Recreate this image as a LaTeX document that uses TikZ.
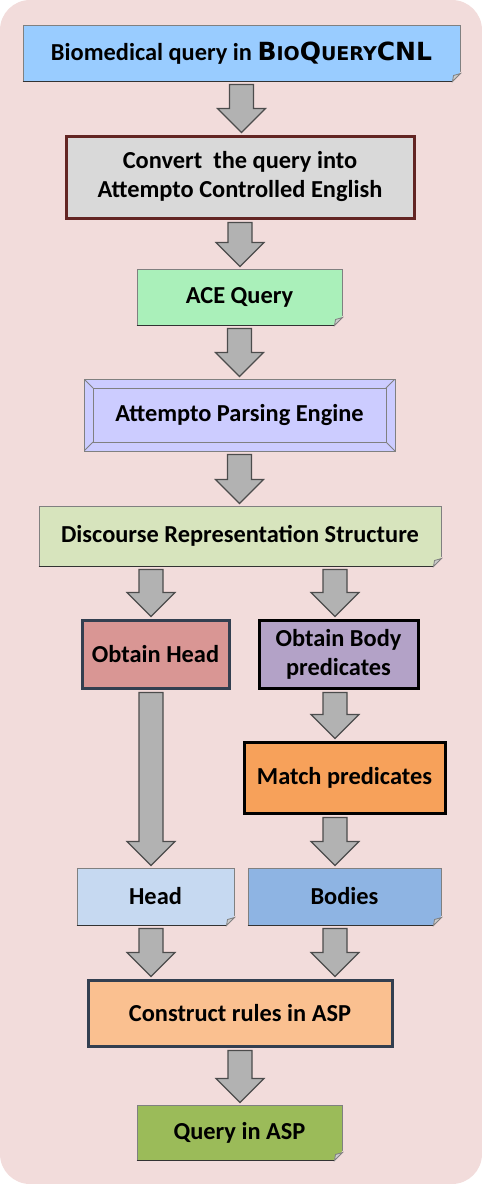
\documentclass[tikz,border=0pt]{standalone}
\usepackage{fontspec}
\setmainfont{Carlito}
\newfontfamily\cnlfont{DejaVu Sans}
\usetikzlibrary{calc}
\definecolor{bgpink}{HTML}{F2DCDB}
\definecolor{bioblue}{HTML}{99CCFF}
\definecolor{convgray}{HTML}{D9D9D9}
\definecolor{convred}{HTML}{632523}
\definecolor{acegreen}{HTML}{AAF0BA}
\definecolor{apeblue}{HTML}{CCCCFF}
\definecolor{drsgreen}{HTML}{D7E4BD}
\definecolor{headred}{HTML}{D99694}
\definecolor{bodyviolet}{HTML}{B3A2C7}
\definecolor{matchorange}{HTML}{F7A15A}
\definecolor{headblue}{HTML}{C6D9F1}
\definecolor{bodiesblue}{HTML}{8EB4E3}
\definecolor{consorange}{HTML}{FAC090}
\definecolor{aspgreen}{HTML}{9BBB59}
\definecolor{navy}{HTML}{333F50}
\definecolor{arrgray}{HTML}{B2B2B2}

% block arrow pointing down, from #1 to #2
\newcommand{\blockarrow}[2]{%
  \draw[blockarr] let \p1=(#1), \p2=(#2) in
    (\x1-6pt,\y1-1.5pt) -- (\x1+6pt,\y1-1.5pt) -- (\x1+6pt,\y2+13pt)
    -- (\x1+12pt,\y2+13pt) -- (\x1,\y2+1pt) -- (\x1-12pt,\y2+13pt)
    -- (\x1-6pt,\y2+13pt) -- cycle;}
\newcommand{\cnl}{{\cnlfont\bfseries\fontsize{12.5}{14}\selectfont B{\fontsize{9.5}{11}\selectfont IO}Q{\fontsize{9.5}{11}\selectfont UERY}CNL}}

\begin{document}
\begin{tikzpicture}[x=1pt, y=1pt, font=\fontsize{12.2}{14.5}\selectfont\bfseries,
    wh/.style 2 args={minimum width=#1pt, minimum height=#2pt, inner sep=1pt},
    note/.style={rectangle, draw=black!50, line width=0.5pt, align=center},
    proc/.style={rectangle, draw=black, line width=1.5pt, align=center},
    bevel/.style={rectangle, draw=black!50, line width=0.5pt, align=center,
      path picture={
        \draw[black!50, line width=0.4pt]
          ([shift={(4.5pt,-4.5pt)}]path picture bounding box.north west) rectangle
          ([shift={(-4.5pt,4.5pt)}]path picture bounding box.south east);
        \foreach \a/\dx/\dy in {north west/4.5/-4.5, north east/-4.5/-4.5,
                                south west/4.5/4.5, south east/-4.5/4.5}
          \draw[black!50, line width=0.4pt] (path picture bounding box.\a) -- ++(\dx pt,\dy pt);
      }},
    blockarr/.style={fill=arrgray, draw=black!70, line width=0.6pt, line join=miter},
    flap/.style={fill=white!60!gray, draw=black!50, line width=0.4pt},
  ]
    % background panel
    \useasboundingbox (0,0) rectangle (241,-592);
    \fill[bgpink, rounded corners=15pt] (0,0) rectangle (241,-592);
    \coordinate (lcol) at (75.5,0);
    \coordinate (rcol) at (167.5,0);

    % main column
    \node[note, wh={218.5}{28}, fill=bioblue]   (bio)  at (120.75,-26.5)  {Biomedical query in \cnl};
    \node[proc, wh={174}{41}, fill=convgray, draw=convred] (conv) at (120,-88.5)
      {Convert\ \ the query into\\Attempto Controlled English};
    \node[note, wh={102.5}{28}, fill=acegreen]  (ace)  at (119.75,-148.5) {ACE Query};
    \node[bevel, wh={155.5}{36}, fill=apeblue]  (ape)  at (119.75,-207.5) {Attempto Parsing Engine};
    \node[note, wh={201}{30}, fill=drsgreen]    (drs)  at (120,-268)      {Discourse Representation Structure};

    % two branches
    \node[proc, wh={73.5}{34}, fill=headred, draw=navy]  (ohead)  at (77.75,-327)    {Obtain Head};
    \node[proc, wh={79.5}{34}, fill=bodyviolet]          (obody)  at (169.25,-327)   {Obtain Body\\predicates};
    \node[proc, wh={100.5}{35.5}, fill=matchorange]      (match)  at (172.25,-388.75) {Match predicates};
    \node[note, wh={78.5}{28.5}, fill=headblue]          (head)   at (77.75,-448.25)  {Head};
    \node[note, wh={96.5}{28.5}, fill=bodiesblue]        (bodies) at (172.25,-448.25) {Bodies};

    % result
    \node[proc, wh={152}{33}, fill=consorange, draw=navy] (cons) at (120,-506.5)     {Construct rules in ASP};
    \node[note, wh={102.5}{27.5}, fill=aspgreen]          (aspq) at (119.75,-566.25) {Query in ASP};

    % folded corners
    \foreach \n in {bio, ace, drs, head, bodies, aspq} {
      \filldraw[bgpink, line width=1pt] ([yshift=4pt]\n.south east) -- ([shift={(1pt,-1pt)}]\n.south east)
        -- ([xshift=-4pt]\n.south east) -- cycle;
      \draw[black!80, line width=0.8pt] (\n.south west) -- ([xshift=-4pt]\n.south east);
      \draw[flap] ([yshift=4pt]\n.south east) -- ([xshift=-4pt]\n.south east)
        -- ([shift={(-3.5pt,3pt)}]\n.south east) -- cycle;
    }

    % arrows
    \blockarrow{bio.south}{conv.north}
    \blockarrow{conv.south}{ace.north}
    \blockarrow{ace.south}{ape.north}
    \blockarrow{ape.south}{drs.north}
    \blockarrow{drs.south -| lcol}{ohead.north -| lcol}
    \blockarrow{drs.south -| rcol}{obody.north -| rcol}
    \blockarrow{ohead.south -| lcol}{head.north -| lcol}
    \blockarrow{obody.south -| rcol}{match.north -| rcol}
    \blockarrow{match.south -| rcol}{bodies.north -| rcol}
    \blockarrow{head.south -| lcol}{cons.north -| lcol}
    \blockarrow{bodies.south -| rcol}{cons.north -| rcol}
    \blockarrow{cons.south}{aspq.north}
\end{tikzpicture}
\end{document}
